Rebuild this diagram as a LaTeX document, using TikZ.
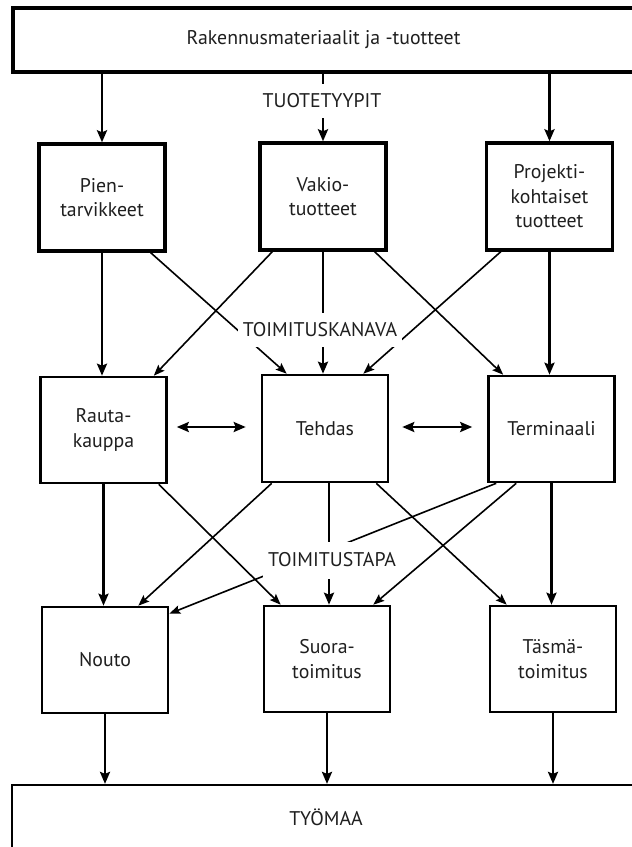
\documentclass[tikz,border=0pt]{standalone}
\usepackage{fontspec}
\setmainfont{PT Sans}
\usetikzlibrary{arrows.meta,calc}
\begin{document}
\begin{tikzpicture}[x=1pt,y=-1pt,
  txt/.style={font=\fontsize{19.8}{24.5}\selectfont, text=black!88, align=center},
  bigbox/.style={draw, line width=3.2pt, txt, inner sep=0pt},
  boxA/.style={draw, line width=3.4pt, minimum width=126pt, minimum height=107pt, txt, inner sep=0pt},
  boxB/.style={draw, line width=2.6pt, minimum width=126pt, minimum height=106pt, txt, inner sep=0pt},
  lbl/.style={fill=white, txt, inner xsep=5pt, inner ysep=0pt, minimum height=34pt},
  varr/.style={line width=2.6pt, -{Stealth[length=12pt,width=10pt,inset=2pt]}},
  darr/.style={line width=1.6pt, -{Stealth[length=11pt,width=8.5pt,inset=2pt]}},
  dbl/.style={line width=2.4pt, {Stealth[length=12pt,width=10pt,inset=2pt]}-{Stealth[length=12pt,width=10pt,inset=2pt]}},
]
\useasboundingbox (0,0) rectangle (632,847);
\fill[white] (0,0) rectangle (632,847);

% top and bottom boxes
\node[bigbox, minimum width=621pt, minimum height=64pt] (top) at (323.5,40) {Rakennusmateriaalit ja -tuotteet};
\node[draw, line width=2.2pt, minimum width=622pt, minimum height=90pt, inner sep=0pt] (site) at (323,830) {};
\node[txt] (sitetext) at (326,817) {TYÖMAA};

% row 1
\node[boxA] (pien) at (102,197.5) {Pien-\\tarvikkeet};
\node[boxA] (vakio) at (323,196.5) {Vakio-\\tuotteet};
\node[boxA] (proj) at (549.5,196.5) {Projekti-\\kohtaiset\\tuotteet};

% row 2
\node[boxB] (rauta) at (103.5,430) {Rauta-\\kauppa};
\node[boxB, minimum height=107pt] (tehdas) at (325,428.5) {Tehdas};
\node[boxB] (term) at (551.5,429) {Terminaali};

% row 3
\node[boxB] (nouto) at (105,660) {Nouto};
\node[boxB] (suora) at (327,659) {Suora-\\toimitus};
\node[boxB] (tasma) at (553,659) {Täsmä-\\toimitus};

% top -> row 1
\draw[varr] (top.south -| pien) -- (pien.north);
\draw[varr] (top.south -| vakio) -- (vakio.north);
\draw[varr] (top.south -| proj) -- (proj.north);

% row 1 -> row 2
\draw[varr] (pien.south) -- (pien.south |- rauta.north);
\draw[varr] (vakio.south) -- (vakio.south |- tehdas.north);
\draw[varr] (proj.south) -- (proj.south |- term.north);
\draw[darr] ($(pien.south east)+(-16,0)$) -- ($(tehdas.north west)+(26,0)$);
\draw[darr] ($(vakio.south west)+(14,0)$) -- ($(rauta.north east)+(-14,0)$);
\draw[darr] ($(vakio.south east)+(-13,0)$) -- ($(term.north west)+(16,0)$);
\draw[darr] ($(proj.south west)+(16,0)$) -- ($(tehdas.north east)+(-26,0)$);

% row 2 sideways
\draw[dbl] ($(rauta.east)+(9,-3)$) -- ($(tehdas.west)+(-15,-1.5)$);
\draw[dbl] ($(tehdas.east)+(13,-1.5)$) -- ($(term.west)+(-15,-2)$);

% row 2 -> row 3
\draw[varr] (rauta.south) -- (rauta.south |- nouto.north);
\draw[varr] ($(tehdas.south)+(4,0)$) -- ($(tehdas.south |- suora.north)+(4,0)$);
\draw[varr] (term.south) -- (term.south |- tasma.north);
\draw[darr] ($(rauta.south east)+(-9,0)$) -- ($(suora.north west)+(18,0)$);
\draw[darr] ($(tehdas.south west)+(11,0)$) -- ($(nouto.north east)+(-31,0)$);
\draw[darr] ($(tehdas.south east)+(-13,0)$) -- ($(tasma.north west)+(18,0)$);
\draw[darr] ($(term.south west)+(9,0)$) -- ($(nouto.north east)+(0,8)$);
\draw[darr] ($(term.south west)+(29,0)$) -- ($(suora.north east)+(-18,0)$);

% row 3 -> site
\draw[varr] (nouto.south) -- (nouto.south |- site.north);
\draw[varr] (suora.south) -- (suora.south |- site.north);
\draw[varr] (tasma.south) -- (tasma.south |- site.north);

% labels over lines
\node[lbl] (tt) at (322,101) {TUOTETYYPIT};
\node[lbl] (tk) at (320,330) {TOIMITUSKANAVA};
\node[lbl, minimum height=37pt] (ts) at (332,560) {TOIMITUSTAPA};
\end{tikzpicture}
\end{document}
